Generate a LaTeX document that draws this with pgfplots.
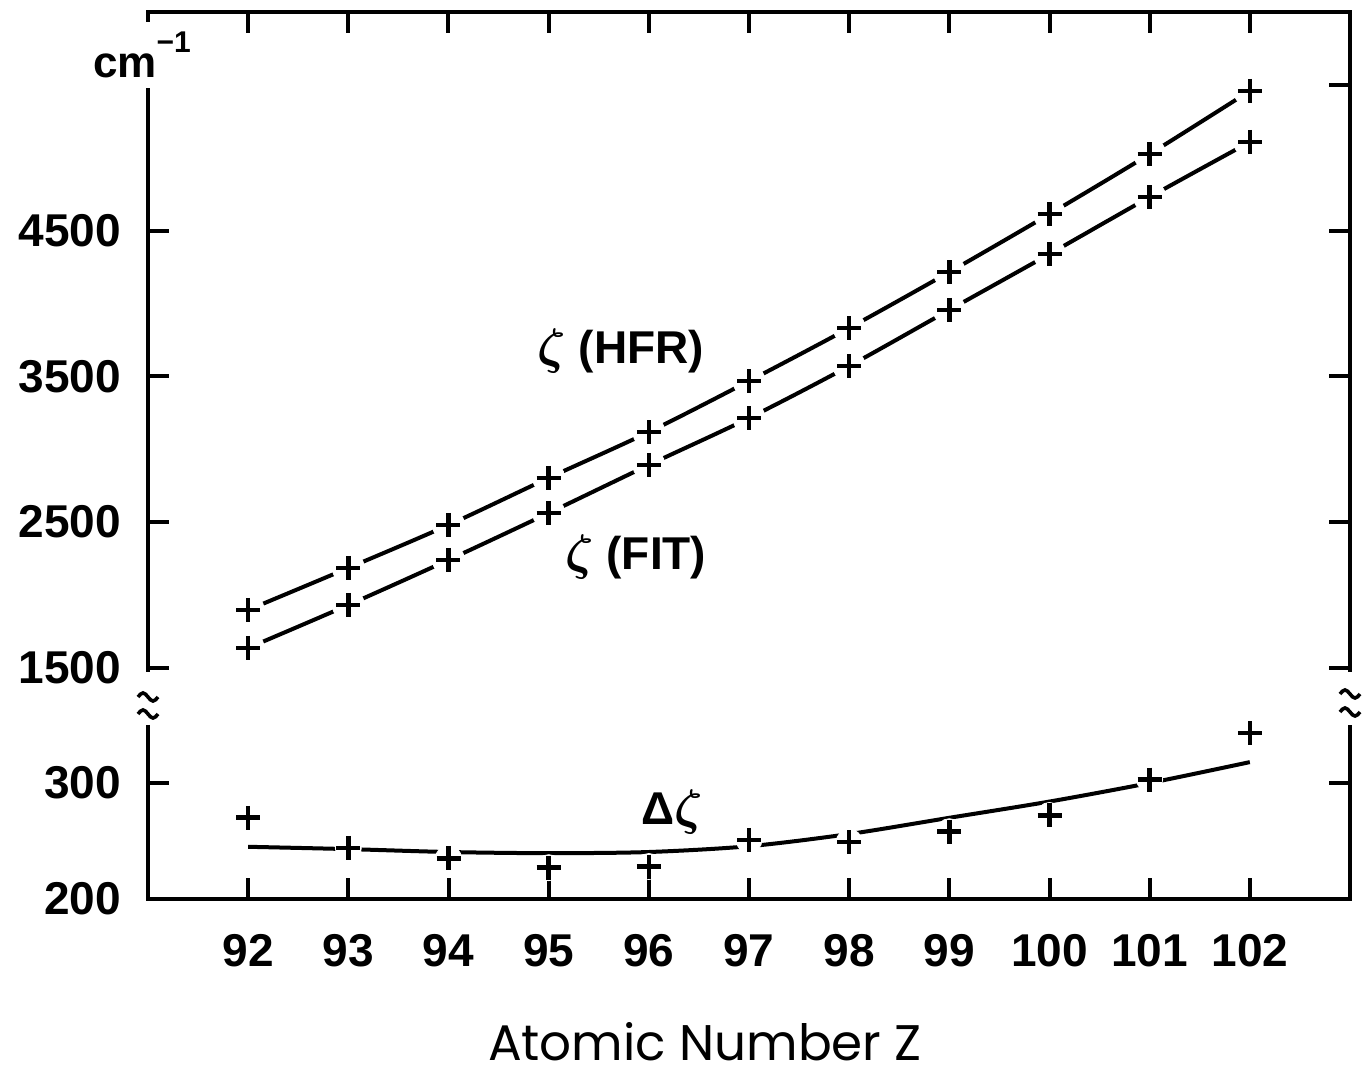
\documentclass[border=0pt]{standalone}
\usepackage{fontspec}
\setmainfont{Liberation Sans}
\newfontfamily\popfont{Poppins}
\usepackage{amsmath}
\usepackage{pgfplots}
\usepackage{pgfplotstable}
\pgfplotsset{compat=1.18}

% spin-orbit parameter, upper panel (cm^-1)
\pgfplotstableread{
z   hfr   fit
92  1896  1635
93  2184  1930
94  2479  2239
95  2802  2561
96  3117  2891
97  3467  3213
98  3831  3570
99  4215  3955
100 4613  4339
101 5025  4730
102 5458  5108
}\zetatab

% difference, lower panel: smooth curve and points
\pgfplotstableread{
z   curve  pts
92  245    270
93  243    244
94  240.5  235
95  239.5  227
96  240.5  228
97  245.5  251
98  256    249
99  270    258
100 284    272
101 300    303
102 318    343
}\deltatab

\pgfplotsset{
  brk/.style={
    scale only axis, width=601pt,
    xmin=91, xmax=103, xtick={92,...,102},
    axis line style={draw=none},
    tick align=inside, major tick length=10.5pt,
    tick style={black, line width=2pt},
    minor tick num=0,
    ticklabel style={font=\fontsize{23}{27}\selectfont\bfseries},
    /pgf/number format/.cd, 1000 sep={}, assume math mode=true, /pgfplots/.cd,
    yticklabel style={xshift=-10pt},
    ytick pos=both, yticklabel pos=left,
    clip=false,
  },
  curve/.style={black, line width=2pt, smooth},
  gap/.style={white, only marks, mark=*, mark size=8pt, mark options={draw=white, fill=white}},
  pt/.style={black, only marks, mark=+, mark size=6pt, mark options={line width=2.3pt}},
}

\begin{document}
\begin{tikzpicture}
\path[use as bounding box] (-74pt,-91pt) rectangle (609pt,449.5pt);

\begin{axis}[brk, at={(0,113.5pt)}, anchor=south west, height=330pt,
  ymin=1470, ymax=6000, ytick={1500,2500,3500,4500},
  xtick pos=right, xticklabels={}]
\draw[line width=2.2pt] (rel axis cs:0,0) -- (rel axis cs:0,1) -- (rel axis cs:1,1) -- (rel axis cs:1,0);
\draw[line width=2pt] (axis cs:103,5500) -- ([xshift=-10.5pt]axis cs:103,5500);
\addplot[curve] table[x=z, y=hfr] {\zetatab};
\addplot[curve] table[x=z, y=fit] {\zetatab};
\addplot[gap] table[x=z, y=hfr] {\zetatab};
\addplot[gap] table[x=z, y=fit] {\zetatab};
\addplot[pt] table[x=z, y=hfr] {\zetatab};
\addplot[pt] table[x=z, y=fit] {\zetatab};
\node[font=\fontsize{23}{27}\selectfont\bfseries] at (axis cs:95.72,3673) {$\boldsymbol{\zeta}$ (HFR)};
\node[font=\fontsize{23}{27}\selectfont\bfseries] at (axis cs:95.87,2259) {$\boldsymbol{\zeta}$ (FIT)};
\end{axis}

\begin{axis}[brk, at={(0,0)}, anchor=south west, height=87pt,
  ymin=200, ymax=350, ytick={200,300},
  xtick pos=left, xticklabel style={yshift=-14pt}]
\draw[line width=2.2pt] (rel axis cs:0,1) -- (rel axis cs:0,0) -- (rel axis cs:1,0) -- (rel axis cs:1,1);
\addplot[curve] table[x=z, y=curve] {\deltatab};
\addplot[gap, mark size=6.5pt] table[x=z, y=pts] {\deltatab};
\addplot[pt] table[x=z, y=pts] {\deltatab};
\node[font=\fontsize{23}{27}\selectfont\bfseries] at (axis cs:96.23,275) {Δ$\boldsymbol{\zeta}$};
\end{axis}

% axis break marks
\foreach \x/\y in {0/101, 0/92.5, 601/102.5, 601/93.5}
  \draw[line width=1.8pt] (\x pt-5pt,\y pt) sin (\x pt-2.5pt,\y pt+2pt) cos (\x pt,\y pt) sin (\x pt+2.5pt,\y pt-2pt) cos (\x pt+5pt,\y pt);

\node[fill=white, inner xsep=1pt, inner ysep=5pt, font=\fontsize{22}{26}\selectfont\bfseries]
  at (-3pt,422pt) {cm\raisebox{0.55em}{\fontsize{15}{15}\selectfont −1}};

\node[font=\popfont\fontsize{25}{30}\selectfont, anchor=base, inner sep=0pt] at (278.5pt,-81pt) {Atomic Number Z};
\end{tikzpicture}
\end{document}
